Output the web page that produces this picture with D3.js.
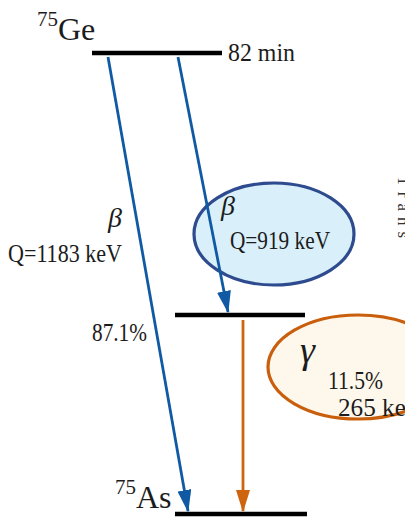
<!DOCTYPE html>
<html>
<head>
<meta charset="utf-8">
<script src="https://cdn.jsdelivr.net/npm/d3@7"></script>
<style>
  html, body { margin: 0; padding: 0; background: #fff; }
  svg { display: block; }
  text { font-family: "Liberation Serif", "DejaVu Serif", serif; fill: #1c1c1c; }
</style>
</head>
<body>
<svg id="chart" width="405" height="520"></svg>
<script>
// Nuclear levels (energy in keV above the 75As ground state)
const levelNames = ["75Ge", "75As*", "75As"];
const levelEnergies = [1183, 265, 0];

// Beta branches: from level, to level, Q value (keV), intensity label
const betaFrom = ["75Ge", "75Ge"];
const betaTo = ["75As", "75As*"];
const betaQ = [1183, 919];
const betaIntensity = ["87.1%", null];

// Gamma transition
const gammaFrom = ["75As*"];
const gammaTo = ["75As"];
const gammaEnergy = [265];
const gammaIntensity = ["11.5%"];

const halfLife = "82 min";

const svg = d3.select("#chart");

const energyOf = name => levelEnergies[levelNames.indexOf(name)];

// Piecewise energy scale for the level diagram
const y = d3.scaleLinear().domain([0, 265, 1183]).range([514, 315, 53]);

// Horizontal extents of the level bars
const levelX = { "75Ge": [92, 222], "75As*": [175, 305], "75As": [175, 307] };

const BLUE = "#0f5aa3", ORANGE = "#cf640f";

const defs = svg.append("defs");
function head(id, color) {
  defs.append("marker")
    .attr("id", id).attr("viewBox", "0 0 16 10")
    .attr("refX", 15).attr("refY", 5)
    .attr("markerWidth", 8).attr("markerHeight", 5)
    .attr("markerUnits", "strokeWidth")
    .attr("orient", "auto")
    .append("path").attr("d", "M0,0 L16,5 L0,10 Z").attr("fill", color);
}
head("hb", BLUE);
head("ho", ORANGE);

// Highlight ellipses
svg.append("ellipse")
  .attr("cx", 274).attr("cy", 234).attr("rx", 80).attr("ry", 51)
  .attr("fill", "#d9effa").attr("stroke", "#2d4b8e").attr("stroke-width", 3.2);
svg.append("ellipse")
  .attr("cx", 358).attr("cy", 367).attr("rx", 90).attr("ry", 52)
  .attr("fill", "#fef8ec").attr("stroke", "#c95f0c").attr("stroke-width", 3.2);

// Level bars
svg.selectAll("line.level")
  .data(levelNames)
  .join("line")
  .attr("class", "level")
  .attr("x1", d => levelX[d][0]).attr("x2", d => levelX[d][1])
  .attr("y1", d => y(energyOf(d))).attr("y2", d => y(energyOf(d)))
  .attr("stroke", "#000").attr("stroke-width", 4.5);

// Beta arrows (start x, end x along the bars)
const betaX = [[108, 188], [178, 228]];
svg.selectAll("line.beta")
  .data(betaFrom.map((f, i) => ({ f, t: betaTo[i], i })))
  .join("line")
  .attr("class", "beta")
  .attr("x1", d => betaX[d.i][0]).attr("y1", d => y(energyOf(d.f)) + 4)
  .attr("x2", d => betaX[d.i][1]).attr("y2", d => y(energyOf(d.t)) - 3)
  .attr("stroke", BLUE).attr("stroke-width", 2.8)
  .attr("marker-end", "url(#hb)");

// Gamma arrow
svg.selectAll("line.gamma")
  .data(gammaFrom.map((f, i) => ({ f, t: gammaTo[i] })))
  .join("line")
  .attr("class", "gamma")
  .attr("x1", 243).attr("y1", d => y(energyOf(d.f)) + 5)
  .attr("x2", 243).attr("y2", d => y(energyOf(d.t)) - 3)
  .attr("stroke", ORANGE).attr("stroke-width", 2.8)
  .attr("marker-end", "url(#ho)");

// Condensed label helper
function label(x, yy, size, width, str) {
  const t = svg.append("text").attr("x", x).attr("y", yy).attr("font-size", size).text(str);
  if (width) t.attr("textLength", width).attr("lengthAdjust", "spacingAndGlyphs");
  return t;
}

// Level labels with mass-number superscripts
function nuclide(x, yy, mass, sym) {
  const t = svg.append("text").attr("x", x).attr("y", yy).attr("font-size", 32);
  t.append("tspan").attr("font-size", 21).attr("dy", -14).text(mass);
  t.append("tspan").attr("dy", 14).text(sym);
}
nuclide(37, y(1183) - 13, "75", "Ge");
nuclide(115, y(0) - 6, "75", "As");

label(228, y(1183) + 8, 25, 67, halfLife);

// Beta labels
svg.append("text").attr("x", 108).attr("y", 227)
  .attr("font-size", 28).attr("font-style", "italic").text("β");
label(8, 262, 26, 114, `Q=${betaQ[0]} keV`);
label(92, 341, 25, 55, betaIntensity[0]);

svg.append("text").attr("x", 221).attr("y", 215)
  .attr("font-size", 28).attr("font-style", "italic").text("β");
label(230, 249, 26, 100, `Q=${betaQ[1]} keV`);

// Gamma labels
svg.append("text").attr("x", 300).attr("y", 363)
  .attr("font-size", 38).attr("font-style", "italic").text("γ");
label(328, 389, 25, 55, gammaIntensity[0]);
label(338, 416, 25, 86, `${gammaEnergy[0]} keV`);

// Side caption running off the right edge
svg.append("text")
  .attr("transform", "translate(398,176) rotate(90)")
  .attr("font-size", 17).attr("style", "fill:#333")
  .attr("letter-spacing", 6)
  .text("Trans");
</script>
</body>
</html>
